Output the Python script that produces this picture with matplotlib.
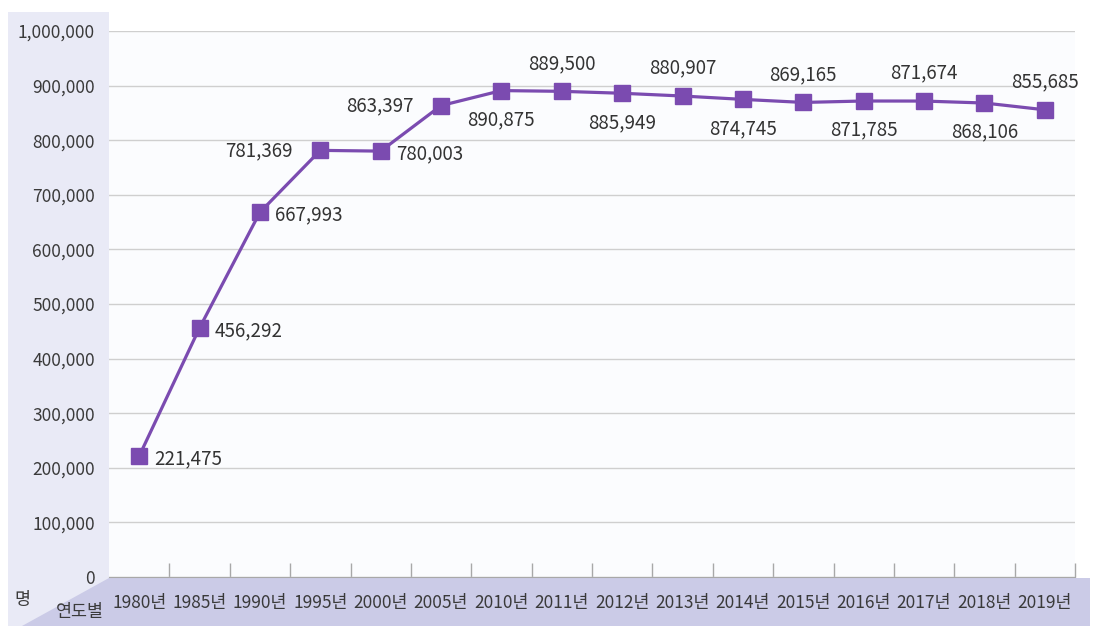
import matplotlib
matplotlib.use("Agg")
import matplotlib.pyplot as plt
from matplotlib.patches import Polygon, Rectangle
from matplotlib.ticker import FuncFormatter, MultipleLocator

plt.rcParams["font.family"] = ["Noto Sans CJK KR", "DejaVu Sans"]

years = ["1980년", "1985년", "1990년", "1995년", "2000년", "2005년", "2010년", "2011년",
         "2012년", "2013년", "2014년", "2015년", "2016년", "2017년", "2018년", "2019년"]
people = [221475, 456292, 667993, 781369, 780003, 863397, 890875, 889500,
          885949, 880907, 874745, 869165, 871785, 871674, 868106, 855685]
# where each value label sits relative to its marker
label_side = ["r", "r", "r", "l", "r", "l", "b", "a",
              "b", "a", "b", "a", "b", "a", "b", "a"]

PURPLE = "#7b4bb0"
TEXT = "#333333"

W, H = 1098, 634
fig = plt.figure(figsize=(W / 100, H / 100), dpi=100, facecolor="white")


def fx(px):
    return px / W


def fy(py):
    return 1 - py / H


# lavender frame: light strip on the left, darker band under the x axis
fig.patches.append(Rectangle((fx(8), fy(626)), fx(101), fy(12) - fy(626),
                             transform=fig.transFigure, facecolor="#e9eaf6",
                             edgecolor="none", zorder=-2))
fig.patches.append(Polygon([(fx(109), fy(578)), (fx(1090), fy(578)),
                            (fx(1090), fy(626)), (fx(22), fy(626))],
                           closed=True, transform=fig.transFigure,
                           facecolor="#cbcbe7", edgecolor="none", zorder=-1))

ax = fig.add_axes([fx(109), fy(577), fx(1075) - fx(109), fy(31) - fy(577)])
ax.set_facecolor("#fbfcfe")

x = list(range(len(years)))
ax.plot(x, people, color=PURPLE, lw=2.3, marker="s", markersize=11,
        markerfacecolor=PURPLE, markeredgecolor=PURPLE, zorder=3, clip_on=False)

offsets = {"r": ((11, -2), "left", "center"),
           "l": ((-20, 0), "right", "center"),
           "a": ((0, 20), "center", "center"),
           "b": ((0, -21), "center", "center")}
for xi, v, side in zip(x, people, label_side):
    off, ha, va = offsets[side]
    ax.annotate(f"{v:,}", (xi, v), xytext=off, textcoords="offset points",
                ha=ha, va=va, fontsize=13.5, color=TEXT, zorder=4)

ax.set_xlim(-0.5, len(years) - 0.5)
ax.set_ylim(0, 1_000_000)
ax.yaxis.set_major_locator(MultipleLocator(100_000))
ax.yaxis.set_major_formatter(FuncFormatter(lambda v, _: f"{int(v):,}"))
ax.grid(axis="y", color="#cfcfcf", lw=1)
ax.set_axisbelow(True)

ax.set_xticks(x)
ax.set_xticklabels(years)
ax.set_xticks([i + 0.5 for i in x], minor=True)
ax.tick_params(axis="x", which="major", length=0, pad=12, labelsize=12.5, labelcolor="#3a3a3a")
ax.tick_params(axis="x", which="minor", direction="in", length=10, color="#a8a8a8", width=1)
ax.tick_params(axis="y", length=0, pad=10, labelsize=12.5, labelcolor="#3a3a3a")

for s in ("top", "right", "left"):
    ax.spines[s].set_visible(False)
ax.spines["bottom"].set_color("#a8a8a8")

fig.text(fx(22), fy(600), "명", ha="center", va="center", fontsize=12.5, color="#3a3a3a")
fig.text(fx(80), fy(612), "연도별", ha="center", va="center", fontsize=12.5, color="#3a3a3a")

fig.savefig("out.png", dpi=100)
